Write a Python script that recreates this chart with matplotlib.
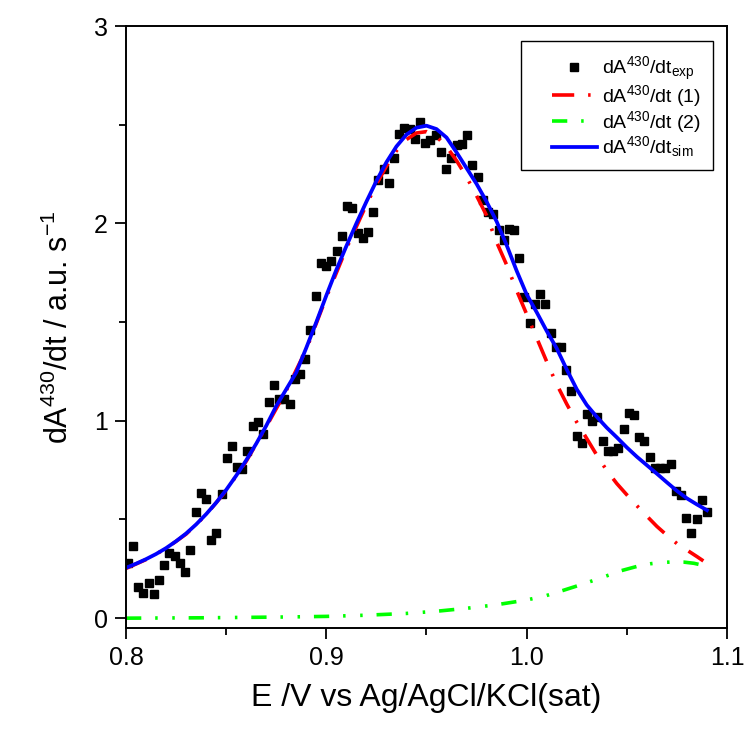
import matplotlib
matplotlib.use('Agg')
import matplotlib.pyplot as plt
from matplotlib.ticker import MultipleLocator
from matplotlib.patches import Rectangle

plt.rcParams['font.family'] = ['Liberation Sans', 'DejaVu Sans']
plt.rcParams['mathtext.default'] = 'regular'
plt.rcParams['lines.scale_dashes'] = False

exp_E = [0.8011, 0.8036, 0.8061, 0.8086, 0.8113, 0.8138, 0.8165, 0.8191, 0.8216, 0.8243,
         0.8270, 0.8296, 0.8321, 0.8348, 0.8373, 0.8399, 0.8424, 0.8451, 0.8478, 0.8503,
         0.8529, 0.8553, 0.8581, 0.8606, 0.8632, 0.8660, 0.8685, 0.8712, 0.8737, 0.8764,
         0.8790, 0.8817, 0.8844, 0.8869, 0.8895, 0.8920, 0.8947, 0.8973, 0.9000, 0.9025,
         0.9052, 0.9077, 0.9103, 0.9130, 0.9157, 0.9182, 0.9208, 0.9233, 0.9259, 0.9286,
         0.9311, 0.9338, 0.9363, 0.9389, 0.9416, 0.9441, 0.9468, 0.9494, 0.9519, 0.9546,
         0.9572, 0.9597, 0.9624, 0.9651, 0.9676, 0.9702, 0.9729, 0.9756, 0.9781, 0.9807,
         0.9833, 0.9860, 0.9887, 0.9910, 0.9937, 0.9963, 0.9988, 1.0015, 1.0042, 1.0067,
         1.0093, 1.0120, 1.0146, 1.0171, 1.0196, 1.0223, 1.0250, 1.0275, 1.0301, 1.0328,
         1.0353, 1.0380, 1.0406, 1.0431, 1.0457, 1.0484, 1.0509, 1.0536, 1.0561, 1.0587,
         1.0614, 1.0639, 1.0666, 1.0692, 1.0719, 1.0744, 1.0770, 1.0797, 1.0822, 1.0849,
         1.0875, 1.0902]
exp_y = [0.277, 0.366, 0.159, 0.128, 0.176, 0.123, 0.193, 0.270, 0.328, 0.316,
         0.279, 0.233, 0.346, 0.537, 0.635, 0.603, 0.395, 0.431, 0.630, 0.809,
         0.873, 0.767, 0.755, 0.848, 0.973, 0.995, 0.931, 1.093, 1.182, 1.111,
         1.110, 1.085, 1.211, 1.237, 1.314, 1.460, 1.634, 1.798, 1.784, 1.810,
         1.860, 1.936, 2.087, 2.076, 1.950, 1.924, 1.956, 2.056, 2.220, 2.274,
         2.203, 2.331, 2.455, 2.482, 2.477, 2.428, 2.514, 2.409, 2.423, 2.448,
         2.363, 2.277, 2.330, 2.397, 2.401, 2.448, 2.296, 2.237, 2.119, 2.056,
         2.046, 1.967, 1.916, 1.970, 1.967, 1.825, 1.628, 1.497, 1.590, 1.641,
         1.590, 1.443, 1.375, 1.375, 1.257, 1.149, 0.922, 0.889, 1.034, 1.000,
         1.017, 0.899, 0.845, 0.848, 0.860, 0.958, 1.041, 1.030, 0.919, 0.897,
         0.815, 0.762, 0.762, 0.759, 0.779, 0.645, 0.625, 0.510, 0.431, 0.502,
         0.600, 0.539]

# component (1)
c1_E = [0.800, 0.810, 0.820, 0.830, 0.840, 0.850, 0.860, 0.870, 0.880, 0.890,
        0.900, 0.910, 0.920, 0.925, 0.930, 0.935, 0.940, 0.945, 0.950, 0.955,
        0.960, 0.965, 0.970, 0.975, 0.980, 0.985, 0.990, 0.995, 1.000, 1.005,
        1.010, 1.015, 1.020, 1.025, 1.030, 1.035, 1.040, 1.045, 1.050, 1.055,
        1.060, 1.065, 1.070, 1.075, 1.080, 1.085, 1.0882]
c1_y = [0.252, 0.297, 0.353, 0.426, 0.524, 0.646, 0.795, 0.970, 1.153, 1.362,
        1.626, 1.873, 2.095, 2.198, 2.290, 2.368, 2.425, 2.458, 2.465, 2.440,
        2.389, 2.318, 2.235, 2.140, 2.040, 1.905, 1.790, 1.660, 1.540, 1.420,
        1.300, 1.185, 1.085, 0.993, 0.910, 0.826, 0.748, 0.682, 0.625, 0.570,
        0.517, 0.465, 0.420, 0.378, 0.345, 0.312, 0.290]

# component (2)
c2_E = [0.800, 0.820, 0.840, 0.860, 0.880, 0.900, 0.920, 0.940, 0.955, 0.970,
        0.985, 1.000, 1.010, 1.018, 1.026, 1.036, 1.047, 1.0557, 1.062, 1.0674,
        1.073, 1.0785, 1.0835, 1.087]
c2_y = [0.000, 0.001, 0.002, 0.004, 0.006, 0.009, 0.015, 0.024, 0.035, 0.050,
        0.068, 0.092, 0.115, 0.140, 0.166, 0.200, 0.240, 0.264, 0.276, 0.282,
        0.285, 0.284, 0.278, 0.270]

# simulated total
sim_E = [0.800, 0.805, 0.810, 0.815, 0.820, 0.825, 0.830, 0.835, 0.840, 0.845,
         0.850, 0.855, 0.860, 0.865, 0.870, 0.875, 0.880, 0.885, 0.890, 0.895,
         0.900, 0.905, 0.910, 0.915, 0.920, 0.925, 0.930, 0.935, 0.940, 0.945,
         0.950, 0.955, 0.960, 0.965, 0.970, 0.975, 0.980, 0.985, 0.990, 0.995,
         1.000, 1.005, 1.010, 1.015, 1.020, 1.025, 1.030, 1.035, 1.040, 1.045,
         1.050, 1.055, 1.060, 1.065, 1.070, 1.075, 1.080, 1.085, 1.090]
sim_y = [0.255, 0.276, 0.299, 0.325, 0.355, 0.390, 0.429, 0.475, 0.527, 0.585,
         0.650, 0.722, 0.800, 0.884, 0.975, 1.075, 1.160, 1.245, 1.370, 1.500,
         1.635, 1.765, 1.885, 2.000, 2.110, 2.215, 2.310, 2.390, 2.450, 2.485,
         2.495, 2.478, 2.435, 2.360, 2.280, 2.200, 2.110, 2.010, 1.890, 1.760,
         1.640, 1.550, 1.455, 1.367, 1.260, 1.160, 1.080, 1.020, 0.965, 0.916,
         0.865, 0.818, 0.775, 0.732, 0.688, 0.645, 0.607, 0.576, 0.547]

fig = plt.figure(figsize=(7.47, 7.29), dpi=100)
ax = fig.add_axes([0.1687, 0.1385, 0.8045, 0.8258])

ax.plot(exp_E, exp_y, ls='none', marker='s', ms=5.8, color='black',
        label=r'dA$^{430}$/dt$_{exp}$')
ax.plot(c1_E, c1_y, color='#ff0000', lw=2.6, dash_capstyle='butt',
        ls=(0, (16, 10, 1.8, 10)), label=r'dA$^{430}$/dt (1)')
ax.plot(c2_E, c2_y, color='#00ff00', lw=2.6, dash_capstyle='butt',
        ls=(0, (11, 10, 1.8, 10.5, 1.8, 10)), label=r'dA$^{430}$/dt (2)')
ax.plot(sim_E, sim_y, color='#0000ff', lw=2.7, label=r'dA$^{430}$/dt$_{sim}$')

ax.set_xlim(0.8, 1.1)
ax.set_ylim(-0.05, 3.0)
ax.set_xticks([0.8, 0.9, 1.0, 1.1])
ax.set_xticklabels(['0.8', '0.9', '1.0', '1.1'])
ax.set_yticks([0, 1, 2, 3])
ax.set_yticklabels(['0', '1', '2', '3'])
ax.xaxis.set_minor_locator(MultipleLocator(0.05))
ax.yaxis.set_minor_locator(MultipleLocator(0.5))

for s in ax.spines.values():
    s.set_linewidth(1.4)
ax.tick_params(which='major', direction='out', length=8, width=1.3, labelsize=18, pad=5)
ax.tick_params(which='minor', direction='out', length=5, width=1.3)
ax.tick_params(top=False, right=False, which='both')

ax.set_xlabel('E /V vs Ag/AgCl/KCl(sat)', fontsize=23, labelpad=9)
ax.set_ylabel(r'dA$^{430}$/dt / a.u. s$^{-1}$', fontsize=22, labelpad=14)

# legend box drawn separately (wide left margin like the original)
box = Rectangle((0.657, 0.761), 0.320, 0.214, transform=ax.transAxes,
                facecolor='white', edgecolor='black', lw=1.0, zorder=4)
ax.add_patch(box)
lgd = ax.legend(loc='center left', bbox_to_anchor=(0.7088, 0.8654), fontsize=14,
                frameon=False, numpoints=1, handlelength=2.3, handletextpad=0.25,
                labelspacing=0.0, borderaxespad=0, borderpad=0)
lgd.set_zorder(5)

fig.savefig('out.png', dpi=100)
